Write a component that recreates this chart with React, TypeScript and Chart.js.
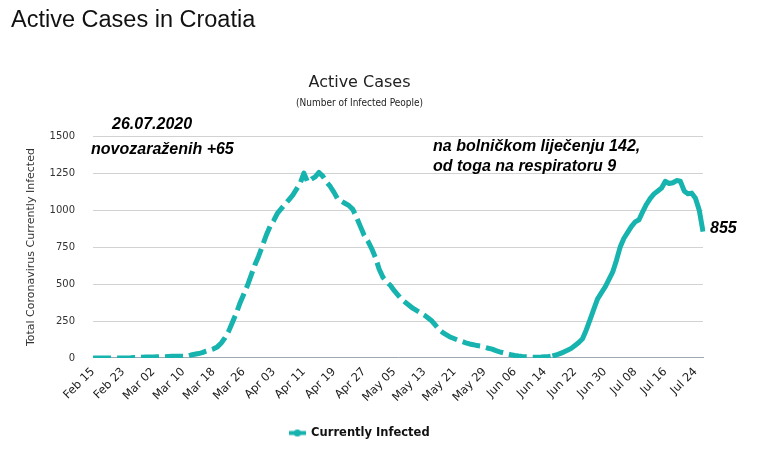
import React, { useEffect, useRef } from "react";
import { Chart, registerables } from "chart.js";

Chart.register(...registerables);

// ---------- data ----------
const START_DATE = "2020-02-15";

// Active (currently infected) cases, one value per day from Feb 15 to Jul 26, 2020
const ACTIVE_CASES: number[] = [
  0, 0, 0, 0, 0, 0, 0, 0, 0, 0,
  1, 3, 3, 5, 6, 7, 7, 8, 9, 9,
  10, 11, 11, 12, 12, 13, 20, 25, 30, 36,
  46, 54, 62, 75, 100, 135, 180, 240, 300, 370,
  430, 490, 560, 630, 690, 760, 830, 890, 930, 980,
  1010, 1040, 1070, 1100, 1140, 1180, 1250, 1190, 1210, 1225,
  1255, 1230, 1190, 1160, 1120, 1075, 1060, 1045, 1030, 1005,
  950, 890, 830, 790, 740, 680, 600, 545, 515, 490,
  455, 425, 395, 375, 355, 335, 320, 305, 290, 270,
  250, 220, 190, 170, 155, 140, 130, 120, 112, 103,
  95, 90, 84, 80, 73, 66, 60, 50, 42, 35,
  28, 22, 17, 13, 10, 8, 6, 5, 5, 6,
  8, 10, 14, 20, 30, 40, 52, 65, 85, 105,
  130, 190, 260, 330, 400, 440, 480, 530, 580, 660,
  750, 810, 850, 890, 920, 935, 990, 1040, 1080, 1110,
  1130, 1150, 1195, 1180, 1185, 1200, 1195, 1130, 1110, 1115,
  1080, 1000, 855,
];

const TICK_LABELS: string[] = [
  "Feb 15", "Feb 23", "Mar 02", "Mar 10", "Mar 18", "Mar 26", "Apr 03",
  "Apr 11", "Apr 19", "Apr 27", "May 05", "May 13", "May 21", "May 29",
  "Jun 06", "Jun 14", "Jun 22", "Jun 30", "Jul 08", "Jul 16", "Jul 24",
];
const TICK_EVERY = 8;
const DASHED_BEFORE_INDEX = 122;

const Y_TICKS = [0, 250, 500, 750, 1000, 1250, 1500];

const SERIES_LABEL = "Currently Infected";
const PAGE_TITLE = "Active Cases in Croatia";
const CHART_TITLE = "Active Cases";
const CHART_SUBTITLE = "(Number of Infected People)";
const Y_TITLE = "Total Coronavirus Currently Infected";

const NOTE_TEXTS: string[] = [
  "26.07.2020",
  "novozaraženih +65",
  "na bolničkom liječenju 142,",
  "od toga na respiratoru 9",
];

const MONTHS = ["Jan", "Feb", "Mar", "Apr", "May", "Jun", "Jul", "Aug", "Sep", "Oct", "Nov", "Dec"];

function buildDates(start: string, n: number): string[] {
  const d0 = new Date(start + "T00:00:00Z");
  const out: string[] = [];
  for (let i = 0; i < n; i++) {
    const d = new Date(d0.getTime() + i * 86400000);
    const day = String(d.getUTCDate()).padStart(2, "0");
    out.push(MONTHS[d.getUTCMonth()] + " " + day);
  }
  return out;
}

// ---------- styles ----------
const TEAL = "#17b3ae";
const NOTE_OFFSETS = [
  { dx: 19, dy: -7 },
  { dx: -2, dy: 18 },
  { dx: 340, dy: 15 },
  { dx: 340, dy: 35 },
];

export default function App() {
  const canvasRef = useRef<HTMLCanvasElement | null>(null);

  useEffect(() => {
    const canvas = canvasRef.current;
    if (!canvas) return;
    Chart.defaults.font.family = "'DejaVu Sans', sans-serif";

    const marker = document.createElement("canvas");
    marker.width = 17;
    marker.height = 9;
    const mctx = marker.getContext("2d")!;
    mctx.strokeStyle = TEAL;
    mctx.fillStyle = TEAL;
    mctx.lineWidth = 4;
    mctx.beginPath();
    mctx.moveTo(0, 4.5);
    mctx.lineTo(17, 4.5);
    mctx.stroke();
    mctx.beginPath();
    mctx.arc(8.5, 4.5, 3.6, 0, Math.PI * 2);
    mctx.fill();

    const dates = buildDates(START_DATE, ACTIVE_CASES.length);

    const notesPlugin = {
      id: "notes",
      afterDatasetsDraw(chart: any) {
        const { ctx, chartArea } = chart;
        ctx.save();
        ctx.fillStyle = "#000";
        ctx.font = "italic bold 16px 'Liberation Sans', Arial, sans-serif";
        ctx.textAlign = "left";
        ctx.textBaseline = "alphabetic";
        NOTE_TEXTS.forEach((t, i) => {
          const o = NOTE_OFFSETS[i];
          ctx.fillText(t, chartArea.left + o.dx, chartArea.top + o.dy);
        });
        const meta = chart.getDatasetMeta(0);
        const last = meta.data[meta.data.length - 1];
        ctx.textBaseline = "middle";
        ctx.fillText(String(ACTIVE_CASES[ACTIVE_CASES.length - 1]), last.x + 7, last.y - 3);
        ctx.restore();
      },
    };

    const chart = new Chart(canvas, {
      type: "line",
      data: {
        labels: dates,
        datasets: [
          {
            label: SERIES_LABEL,
            data: ACTIVE_CASES,
            borderColor: TEAL,
            backgroundColor: TEAL,
            borderWidth: 5,
            pointRadius: 0,
            pointHoverRadius: 0,
            tension: 0,
            borderJoinStyle: "round",
            borderCapStyle: "butt",
            segment: {
              borderDash: (ctx: any) => (ctx.p0DataIndex < DASHED_BEFORE_INDEX ? [18, 6] : []),
            },
          } as any,
        ],
      },
      options: {
        animation: false,
        responsive: false,
        maintainAspectRatio: false,
        events: [],
        layout: { padding: { left: 16, right: 63, top: 60, bottom: 7.25 } },
        plugins: {
          title: {
            display: true,
            text: CHART_TITLE,
            color: "#222",
            font: { family: "'DejaVu Sans'", size: 16, weight: "normal" },
            padding: { top: 13, bottom: 4 },
          },
          subtitle: {
            display: true,
            text: CHART_SUBTITLE,
            color: "#222",
            font: { family: "'DejaVu Sans Condensed'", size: 10 },
            padding: { top: 1, bottom: 27 },
          },
          legend: {
            position: "bottom",
            labels: {
              usePointStyle: true,
              pointStyle: marker,
              pointStyleWidth: 16,
              padding: 15.75,
              color: "#111",
              font: { family: "'DejaVu Sans'", size: 11.5, weight: "bold" },
            },
          },
          tooltip: { enabled: false },
        },
        scales: {
          x: {
            type: "category",
            offset: false,
            grid: { display: false, drawTicks: false },
            border: { display: true, color: "#9ca8b4", width: 1 },
            ticks: {
              autoSkip: false,
              minRotation: 45,
              maxRotation: 45,
              padding: 7,
              color: "#1a1a1a",
              font: { size: 11.5 },
              callback: (_v: any, i: number) => (i % TICK_EVERY === 0 ? TICK_LABELS[i / TICK_EVERY] : ""),
            },
          },
          y: {
            min: Y_TICKS[0],
            max: Y_TICKS[Y_TICKS.length - 1],
            afterBuildTicks: (scale: any) => {
              scale.ticks = Y_TICKS.map((v) => ({ value: v }));
            },
            border: { display: false },
            grid: {
              drawTicks: false,
              color: (c: any) => (c.tick && c.tick.value === 0 ? "rgba(0,0,0,0)" : "#d2d2d2"),
              lineWidth: 1,
            },
            ticks: {
              padding: 18,
              color: "#333",
              font: { size: 10 },
              callback: (v: any) => String(v),
            },
            title: {
              display: true,
              text: Y_TITLE,
              color: "#333",
              font: { size: 11 },
              padding: { top: 8.4, bottom: -6 },
            },
          },
        },
      } as any,
      plugins: [notesPlugin],
    });

    return () => chart.destroy();
  }, []);

  return (
    <div style={{ position: "fixed", left: 0, top: 0, width: 766, height: 456, background: "#fff" }}>
      <div
        style={{
          position: "absolute",
          left: 11,
          top: 8,
          fontFamily: "'Liberation Sans', Arial, sans-serif",
          fontSize: 23.5,
          lineHeight: "23px",
          color: "#111",
          whiteSpace: "nowrap",
        }}
      >
        {PAGE_TITLE}
      </div>
      <canvas ref={canvasRef} width={766} height={456} style={{ display: "block" }} />
    </div>
  );
}
